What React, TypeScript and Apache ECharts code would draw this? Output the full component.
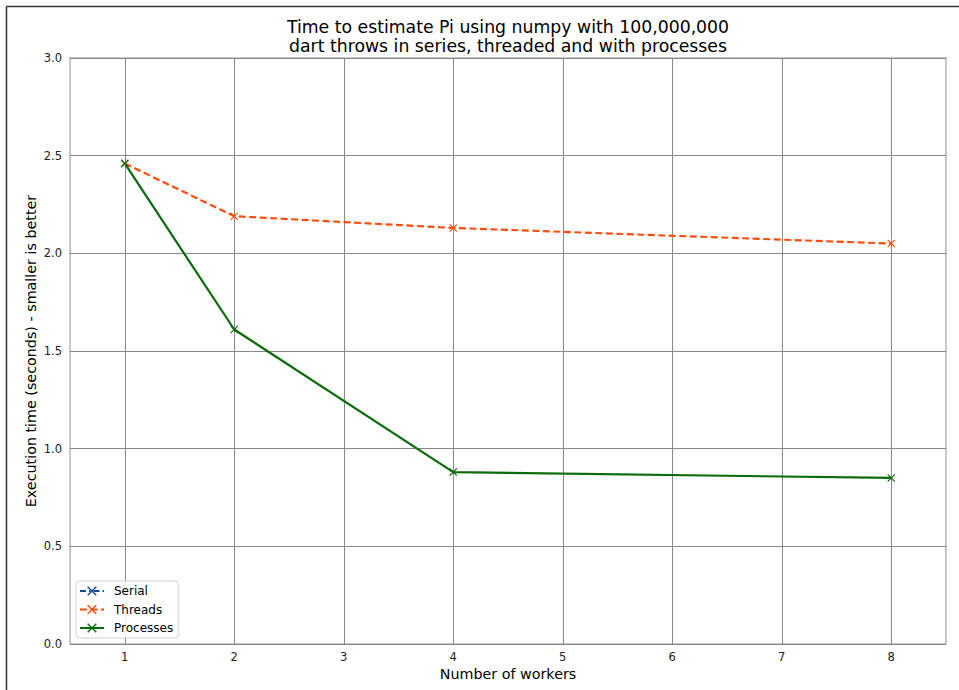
import React, { useEffect, useRef } from "react";
import * as echarts from "echarts";

const workerTicks = [1, 2, 3, 4, 5, 6, 7, 8];
const serialWorkers = [1];
const serialTimes = [2.46];
const threadWorkers = [1, 2, 4, 8];
const threadTimes = [2.46, 2.19, 2.13, 2.05];
const processWorkers = [1, 2, 4, 8];
const processTimes = [2.46, 1.61, 0.88, 0.85];

const X_PATH =
  "path://M0,1 L1,0 L5,4 L9,0 L10,1 L6,5 L10,9 L9,10 L5,6 L1,10 L0,9 L4,5 Z";

const pairs = (xs: number[], ys: number[]) => xs.map((x, i) => [x, ys[i]]);

export default function App() {
  const ref = useRef<HTMLDivElement>(null);
  useEffect(() => {
    if (!ref.current) return;
    const chart = echarts.init(ref.current, undefined, { renderer: "svg" });
    const font = "DejaVu Sans";
    chart.setOption({
      animation: false,
      backgroundColor: "#ffffff",
      textStyle: { fontFamily: font },
      title: {
        text:
          "Time to estimate Pi using numpy with 100,000,000\ndart throws in series, threaded and with processes",
        left: 503,
        textAlign: "center",
        top: 12.5,
        textStyle: {
          fontFamily: font,
          fontSize: 17.3,
          fontWeight: "normal",
          color: "#000",
          lineHeight: 19,
        },
      },
      graphic: [
        {
          type: "line",
          shape: { x1: 6.5, y1: 6.5, x2: 959, y2: 6.5 },
          style: { stroke: "#333", lineWidth: 1.5 },
        },
        {
          type: "line",
          shape: { x1: 6.5, y1: 6.5, x2: 6.5, y2: 690 },
          style: { stroke: "#333", lineWidth: 1.5 },
        },
      ],
      grid: {
        left: 70,
        right: 13,
        top: 58,
        bottom: 46,
        show: true,
        borderColor: "#b5b5b5",
        borderWidth: 1.5,
        backgroundColor: "transparent",
      },
      legend: {
        orient: "vertical",
        left: 76,
        top: 581,
        padding: [4, 5, 4, 3],
        itemWidth: 24,
        itemHeight: 12,
        itemGap: 6.5,
        backgroundColor: "rgba(255,255,255,0.85)",
        borderColor: "#d0d0d0",
        borderWidth: 1,
        borderRadius: 3,
        textStyle: {
          fontFamily: font,
          fontSize: 12,
          color: "#000",
          padding: [0, 0, 0, 5],
        },
        data: ["Serial", "Threads", "Processes"],
      },
      xAxis: {
        type: "value",
        min: 0.5,
        max: 8.5,
        name: "Number of workers",
        nameLocation: "middle",
        nameGap: 23,
        nameMoveOverlap: false,
        nameTextStyle: { fontFamily: font, fontSize: 14.3, color: "#000" },
        axisLine: { show: false },
        axisTick: { show: false, customValues: workerTicks },
        axisLabel: {
          customValues: workerTicks,
          fontFamily: font,
          fontSize: 11.5,
          color: "#222",
          margin: 7,
        },
        splitLine: { show: true, lineStyle: { color: "#888", width: 1 } },
      },
      yAxis: {
        type: "value",
        min: 0,
        max: 3,
        interval: 0.5,
        name: "Execution time (seconds) - smaller is better",
        nameLocation: "middle",
        nameGap: 32,
        nameMoveOverlap: false,
        nameTextStyle: { fontFamily: font, fontSize: 14.3, color: "#000" },
        axisLine: { show: false },
        axisTick: { show: false },
        axisLabel: {
          fontFamily: font,
          fontSize: 11.5,
          color: "#222",
          margin: 8,
          formatter: (v: number) => v.toFixed(1),
        },
        splitLine: { show: true, lineStyle: { color: "#888", width: 1 } },
      },
      series: [
        {
          name: "Serial",
          type: "line",
          data: pairs(serialWorkers, serialTimes),
          color: "#124c94",
          symbol: X_PATH,
          symbolSize: 8,
          lineStyle: { width: 2, type: [6, 3, 1.5, 3] },
          clip: false,
          z: 2,
        },
        {
          name: "Threads",
          type: "line",
          data: pairs(threadWorkers, threadTimes),
          color: "#ff4c0c",
          symbol: X_PATH,
          symbolSize: 8,
          lineStyle: { width: 2.2, type: [7, 3.5] },
          clip: false,
          z: 3,
        },
        {
          name: "Processes",
          type: "line",
          data: pairs(processWorkers, processTimes),
          color: "#0a6b0a",
          symbol: X_PATH,
          symbolSize: 8,
          lineStyle: { width: 2.2, type: "solid" },
          clip: false,
          z: 4,
        },
      ],
    });
    return () => chart.dispose();
  }, []);
  return (
    <div
      ref={ref}
      style={{ position: "absolute", left: 0, top: 0, width: 959, height: 690 }}
    />
  );
}
